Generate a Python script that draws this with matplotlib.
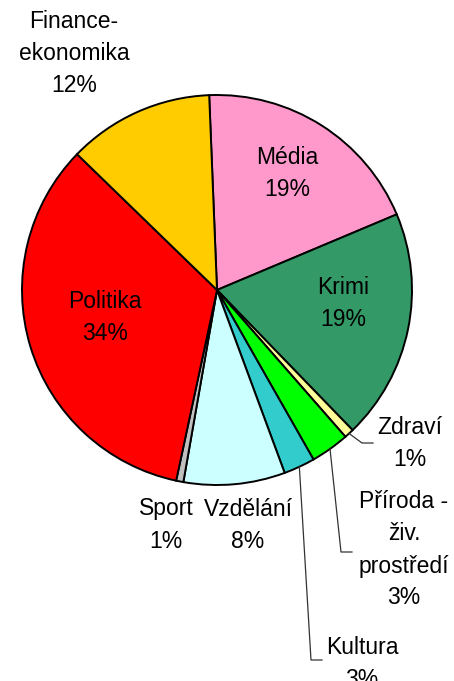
import numpy as np
import matplotlib as mpl
mpl.use('Agg')
import matplotlib.pyplot as plt

plt.rcParams['font.family'] = ['Liberation Sans', 'DejaVu Sans']

# slices clockwise from the top
names = ["Média", "Krimi", "Zdraví", "Příroda -\nživ.\nprostředí", "Kultura",
         "Vzdělání", "Sport", "Politika", "Finance-\nekonomika"]
values = [19.3, 19.1, 0.8, 3.2, 2.6, 8.4, 0.6, 33.9, 12.1]
pct_labels = ["19%", "19%", "1%", "3%", "3%", "8%", "1%", "34%", "12%"]
colors = ["#FF99CC", "#339966", "#FFFF99", "#00FF00", "#33CCCC",
          "#CCFFFF", "#C0C0C0", "#FF0000", "#FFCC00"]

W, H = 454, 681
fig = plt.figure(figsize=(W / 100, H / 100), dpi=100)
ax = fig.add_axes([0, 0, 1, 1])

cx, cy, r = 217, H - 290, 195
wedges, _ = ax.pie(values, colors=colors, startangle=92.3, counterclock=False,
                   center=(cx, cy), radius=r,
                   wedgeprops=dict(edgecolor='black', linewidth=1.4))
ax.set_xlim(0, W)
ax.set_ylim(0, H)
ax.set_aspect('auto')
ax.axis('off')

# label block centres (pixels, y from top)
label_pos = [(287, 173), (343, 304), (410, 444), (404, 550), (362, 664),
             (248, 525), (166, 525), (105, 318), (74, 53)]
for name, pct, (x, y) in zip(names, pct_labels, label_pos):
    ax.text(x, H - y, f"{name}\n{pct}", ha='center', va='center',
            fontsize=16.5, linespacing=1.5, color='black')

# leader lines: start on wedge edge, elbow, end near label
leaders = {2: [(362, 443), (373, 443)],
           3: [(341, 552), (352, 552)],
           4: [(311, 660), (322, 660)]}
for i, pts in leaders.items():
    w = wedges[i]
    ang = np.deg2rad((w.theta1 + w.theta2) / 2)
    xs = [cx + r * np.cos(ang)] + [p[0] for p in pts]
    ys = [cy + r * np.sin(ang)] + [H - p[1] for p in pts]
    ax.plot(xs, ys, color='#333333', lw=0.9)

fig.savefig("out.png", dpi=100)
